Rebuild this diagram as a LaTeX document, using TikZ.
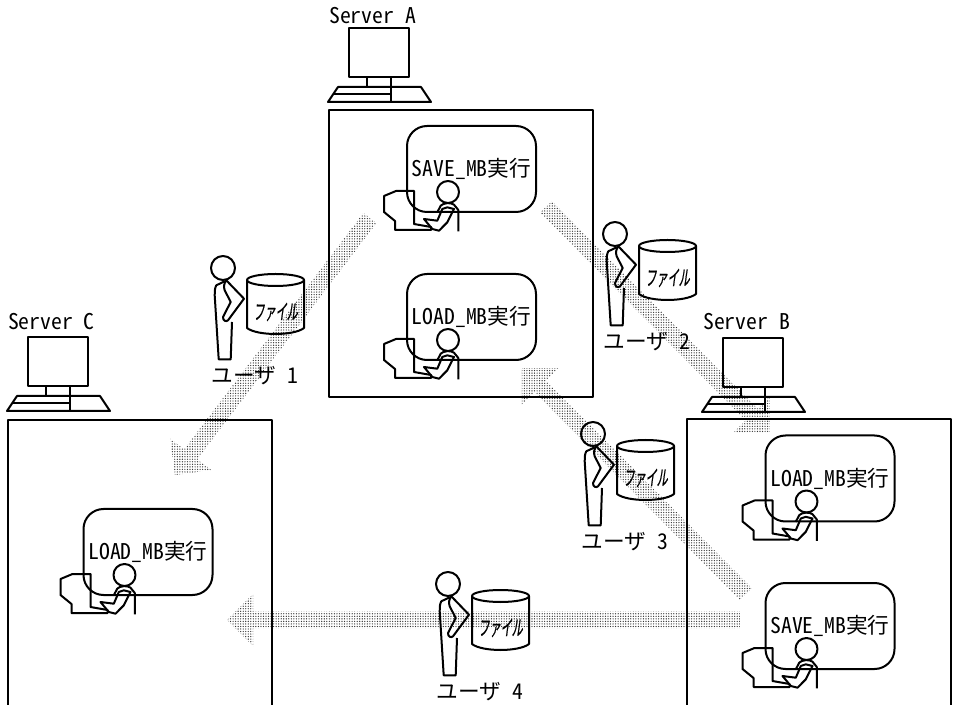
\documentclass[tikz,border=0pt]{standalone}
\usepackage{fontspec}
\usetikzlibrary{calc,patterns.meta}
\newfontfamily\jpf{Noto Sans CJK JP}
\newfontfamily\hwf[RawFeature=+hwid]{Noto Sans CJK JP}
\newfontfamily\kanaf[FakeStretch=0.52,FakeSlant=0.14,FakeBold=0.6]{Noto Sans CJK JP}
\newcommand{\hw}[1]{{\hwf #1}}
\newcommand{\blockarrow}[2]{%
  \fill[flowfill]
    ($(#1)!6.2pt!90:(#2)$) --
    ($($(#2)!19.5pt!(#1)$)!6.2pt!-90:(#1)$) --
    ($($(#2)!19.5pt!(#1)$)!19.5pt!-90:(#1)$) --
    (#2) --
    ($($(#2)!19.5pt!(#1)$)!19.5pt!90:(#1)$) --
    ($($(#2)!19.5pt!(#1)$)!6.2pt!90:(#1)$) --
    ($(#1)!6.2pt!-90:(#2)$) -- cycle;}
\tikzset{
  line/.style={draw=black,line width=1.5pt,line join=round},
  flowfill/.style={pattern={Dots[radius=0.5pt,distance=1.9pt]},pattern color=black!80},
  procbox/.style={line,rounded corners=15pt,minimum width=96.75pt,minimum height=64.5pt,inner sep=0pt,
    font=\fontsize{16.25pt}{17pt}\selectfont},
  srvlabel/.style={inner sep=0pt,font=\fontsize{16.25pt}{17pt}\selectfont},
  frame/.style={line},
  pics/operator/.style={code={
    \draw[line] (8,66)--(-10,66)--(-22,71)--(-22,87)--(-11,96)--(-11,105)--(25,105)--(25,102)--(8,99)--cycle;
    \draw[line] (42,67) circle[radius=11];
    \draw[line] (18,94)--(31.3,95.7)--(36.3,84)--(41.3,82.3)--(48,84)--(41.3,97.3)--(33,105.7)--(26.3,104)--cycle;
    \draw[line] (31.3,87.3)--(34.7,80.7)..controls (37,78) and (45,77) ..(48,79.7)--(52.3,85)--(52.3,106.3);
  }},
  pics/serverpc/.style={code={
    \draw[line] (0,0) rectangle (60,49);
    \draw[line] (18,49)--(18,59);
    \draw[line] (42,49)--(42,74);
    \draw[line] (-11,59)--(72,59)--(82,74)--(-21,74)--cycle;
    \draw[line] (-16,66)--(42,66);
  }},
  pics/usericon/.style={code={
    \draw[line] (0,0) circle[radius=12];
    \draw[line] (1.7,13.3)--(-6.7,17.3)..controls (-8.3,20) and (-8.3,24) ..(-8.3,27.3)--(-4.3,91.3)--(7.7,91.3)--(9,54);
    \draw[line] (3.3,12.3)--(21,30.7)--(5,52.3)..controls (3,54) and (0,53) ..(0,49)--(7.7,34)--(1.7,22.3)..controls (0.5,19) and (1,15) ..(3.3,12.3);
    \draw[line] (24,12)--(24,60)..controls (29,64) and (41,66) ..(52.5,66)..controls (64,66) and (76,64) ..(81,60)--(81,12);
    \draw[line] (52.5,12) ellipse[x radius=28.5,y radius=6];
    \node[inner sep=0pt,font=\kanaf\fontsize{16pt}{17pt}\selectfont] (-file) at (52.5,44) {ファイル};
    \node[srvlabel] (-label) at (32,108) {\jpf ユーザ\hw{ #1}};
  }}
}
\begin{document}
\begin{tikzpicture}[x=0.75pt,y=-0.75pt]
\useasboundingbox (0,0) rectangle (953,705);
% flow arrows
\coordinate (f1a) at (370,218); \coordinate (f1b) at (175,475);
\coordinate (f2a) at (546,207); \coordinate (f2b) at (770,433);
\coordinate (f3a) at (746,594); \coordinate (f3b) at (522,368);
\coordinate (f4a) at (740,620); \coordinate (f4b) at (227,620);
\blockarrow{f1a}{f1b}
\blockarrow{f2a}{f2b}
\blockarrow{f3a}{f3b}
\blockarrow{f4a}{f4b}
% frames
\node[frame,minimum width=198pt,minimum height=215.25pt,inner sep=0pt] (boxA) at (461,253.5) {};
\draw[frame] (8,707)--(8,420)--(272,420)--(272,707);
\draw[frame] (687,707)--(687,419)--(951,419)--(951,707);
% servers
\pic (srvA) at (349,28) {serverpc};
\pic (srvB) at (723,338) {serverpc};
\pic (srvC) at (28,337) {serverpc};
\node[srvlabel] (lblA) at (372.5,16) {\hw{Server A}};
\node[srvlabel] (lblB) at (746.5,322) {\hw{Server B}};
\node[srvlabel] (lblC) at (51.5,322) {\hw{Server C}};
% processes
\node[procbox] (pA1) at (471.5,169) {\hw{SAVE\_MB}\jpf 実行};
\node[procbox] (pA2) at (471.5,317) {\hw{LOAD\_MB}\jpf 実行};
\node[procbox] (pB1) at (830,478.5) {\hw{LOAD\_MB}\jpf 実行};
\node[procbox] (pB2) at (830,626) {\hw{SAVE\_MB}\jpf 実行};
\node[procbox] (pC1) at (148,552) {\hw{LOAD\_MB}\jpf 実行};
\pic at (pA1.north west) {operator};
\pic at (pA2.north west) {operator};
\pic at (pB1.north west) {operator};
\pic at (pB2.north west) {operator};
\pic at (pC1.north west) {operator};
% users
\pic (u1) at (223,268) {usericon=1};
\pic (u2) at (615,234) {usericon=2};
\pic (u3) at (593,434) {usericon=3};
\pic (u4) at (448,584) {usericon=4};
\end{tikzpicture}
\end{document}
